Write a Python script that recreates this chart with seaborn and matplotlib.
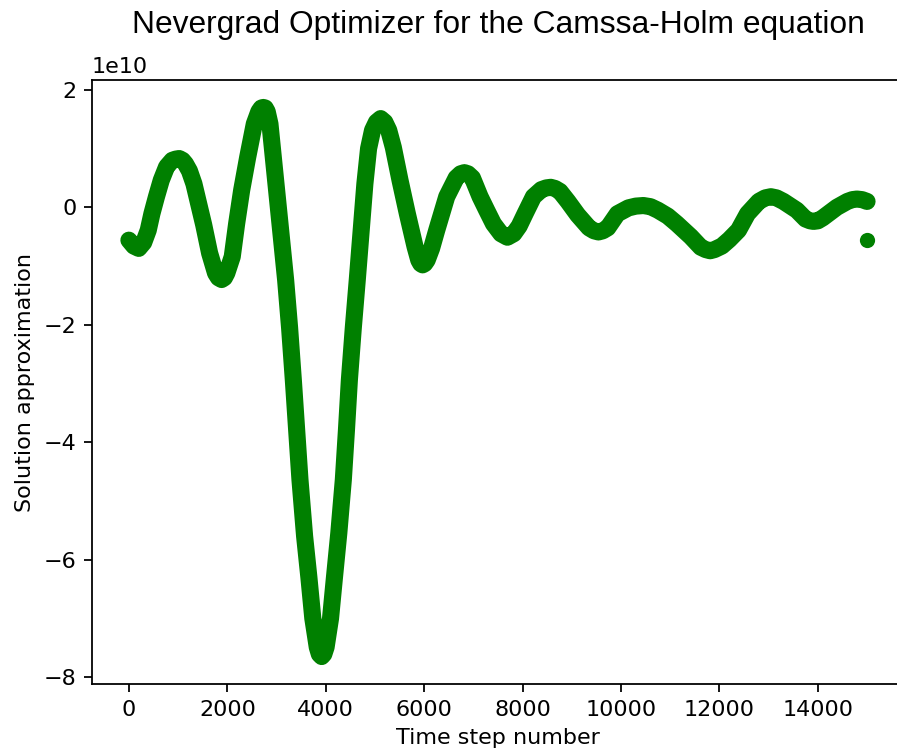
import numpy as np
import matplotlib
matplotlib.use("Agg")
import matplotlib.pyplot as plt
import seaborn as sns

# Time step numbers at which the solution curve is sampled
steps = [0, 100, 200, 300, 393, 467, 560, 657, 766, 880, 950, 1023, 1090, 1150,
         1230, 1321, 1450, 1520, 1640, 1760, 1820, 1884, 1940, 1990, 2100, 2189,
         2291, 2413, 2548, 2640, 2690, 2731, 2770, 2810, 2866, 2934, 3002, 3070,
         3137, 3185, 3265, 3341, 3410, 3476, 3570, 3657, 3737, 3827, 3870, 3917,
         3960, 4007, 4097, 4177, 4265, 4357, 4420, 4480, 4560, 4640, 4720, 4795,
         4870, 4950, 5030, 5116, 5200, 5280,
         5373, 5509, 5658, 5814, 5890, 5930, 5968, 6010, 6060, 6150, 6255, 6458,
         6650, 6740, 6817, 6890, 6980, 7136, 7270, 7407, 7560, 7691, 7820, 7930,
         8050, 8220, 8380, 8480, 8572, 8660, 8760, 8920, 9120, 9350, 9450, 9541,
         9630, 9730, 9927, 10150, 10300, 10455, 10600, 10750, 10950, 11134, 11418,
         11620, 11720, 11811, 11900, 12050, 12200, 12387, 12570, 12800, 12930,
         13045, 13160, 13300, 13573, 13750, 13840, 13912, 14000, 14100, 14386,
         14600, 14700, 14793, 14900, 14999]

# Solution approximation at those steps (units of 1e10)
solution = [-0.56, -0.66, -0.70, -0.60, -0.39, -0.11, 0.18, 0.46, 0.69, 0.80, 0.82,
            0.83, 0.80, 0.74, 0.62, 0.40, -0.05, -0.30, -0.78, -1.12, -1.20, -1.23,
            -1.20, -1.12, -0.84, -0.28, 0.29, 0.85, 1.42, 1.63, 1.69, 1.70, 1.69,
            1.63, 1.42, 0.85, 0.29, -0.28, -0.84, -1.24, -2.05, -2.94, -3.80,
            -4.64, -5.60, -6.30, -7.00, -7.49, -7.61, -7.65, -7.61, -7.49, -7.00,
            -6.30, -5.55, -4.64, -3.80, -2.94, -2.05, -1.24, -0.40, 0.40, 1.00,
            1.31, 1.45, 1.51, 1.45, 1.31, 1.02, 0.46,
            -0.11, -0.67, -0.90, -0.96, -0.98, -0.96, -0.90, -0.70, -0.39, 0.18,
            0.50, 0.57, 0.59, 0.57, 0.50, 0.18, -0.05, -0.28, -0.45, -0.51, -0.45,
            -0.32, -0.11, 0.18, 0.30, 0.33, 0.34, 0.32, 0.27, 0.10, -0.13, -0.35,
            -0.40, -0.42, -0.40, -0.35, -0.11, -0.01, 0.02, 0.03, 0.01, -0.05,
            -0.15, -0.28, -0.50, -0.68, -0.72, -0.74, -0.72, -0.66, -0.55, -0.39,
            -0.11, 0.10, 0.16, 0.18, 0.16, 0.10, -0.05, -0.20, -0.23, -0.24, -0.23,
            -0.18, 0.00, 0.10, 0.13, 0.14, 0.13, 0.10]

# Final step, which returns to the initial value
final_step = [15000]
final_solution = [-0.56]

scale = 1e10

W, H, DPI = 897, 755, 160
fig = plt.figure(figsize=(W / DPI, H / DPI), dpi=DPI)
ax = fig.add_axes([92 / W, 71 / H, 812 / W, 604 / H])

sns.lineplot(x=np.array(steps), y=np.array(solution) * scale, ax=ax,
             color="green", linewidth=7.7, solid_capstyle="round",
             solid_joinstyle="round", estimator=None, sort=False)
sns.scatterplot(x=np.array(final_step), y=np.array(final_solution) * scale,
                ax=ax, color="green", s=47, linewidth=0)

ax.set_title("Nevergrad Optimizer for the Camssa-Holm equation",
             fontfamily="Liberation Sans", fontsize=14.3, y=1.0778, pad=0)
ax.set_xlabel("Time step number")
ax.set_ylabel("Solution approximation")
ax.set_xticks([0, 2000, 4000, 6000, 8000, 10000, 12000, 14000])

fig.savefig("out.png", dpi=DPI)
